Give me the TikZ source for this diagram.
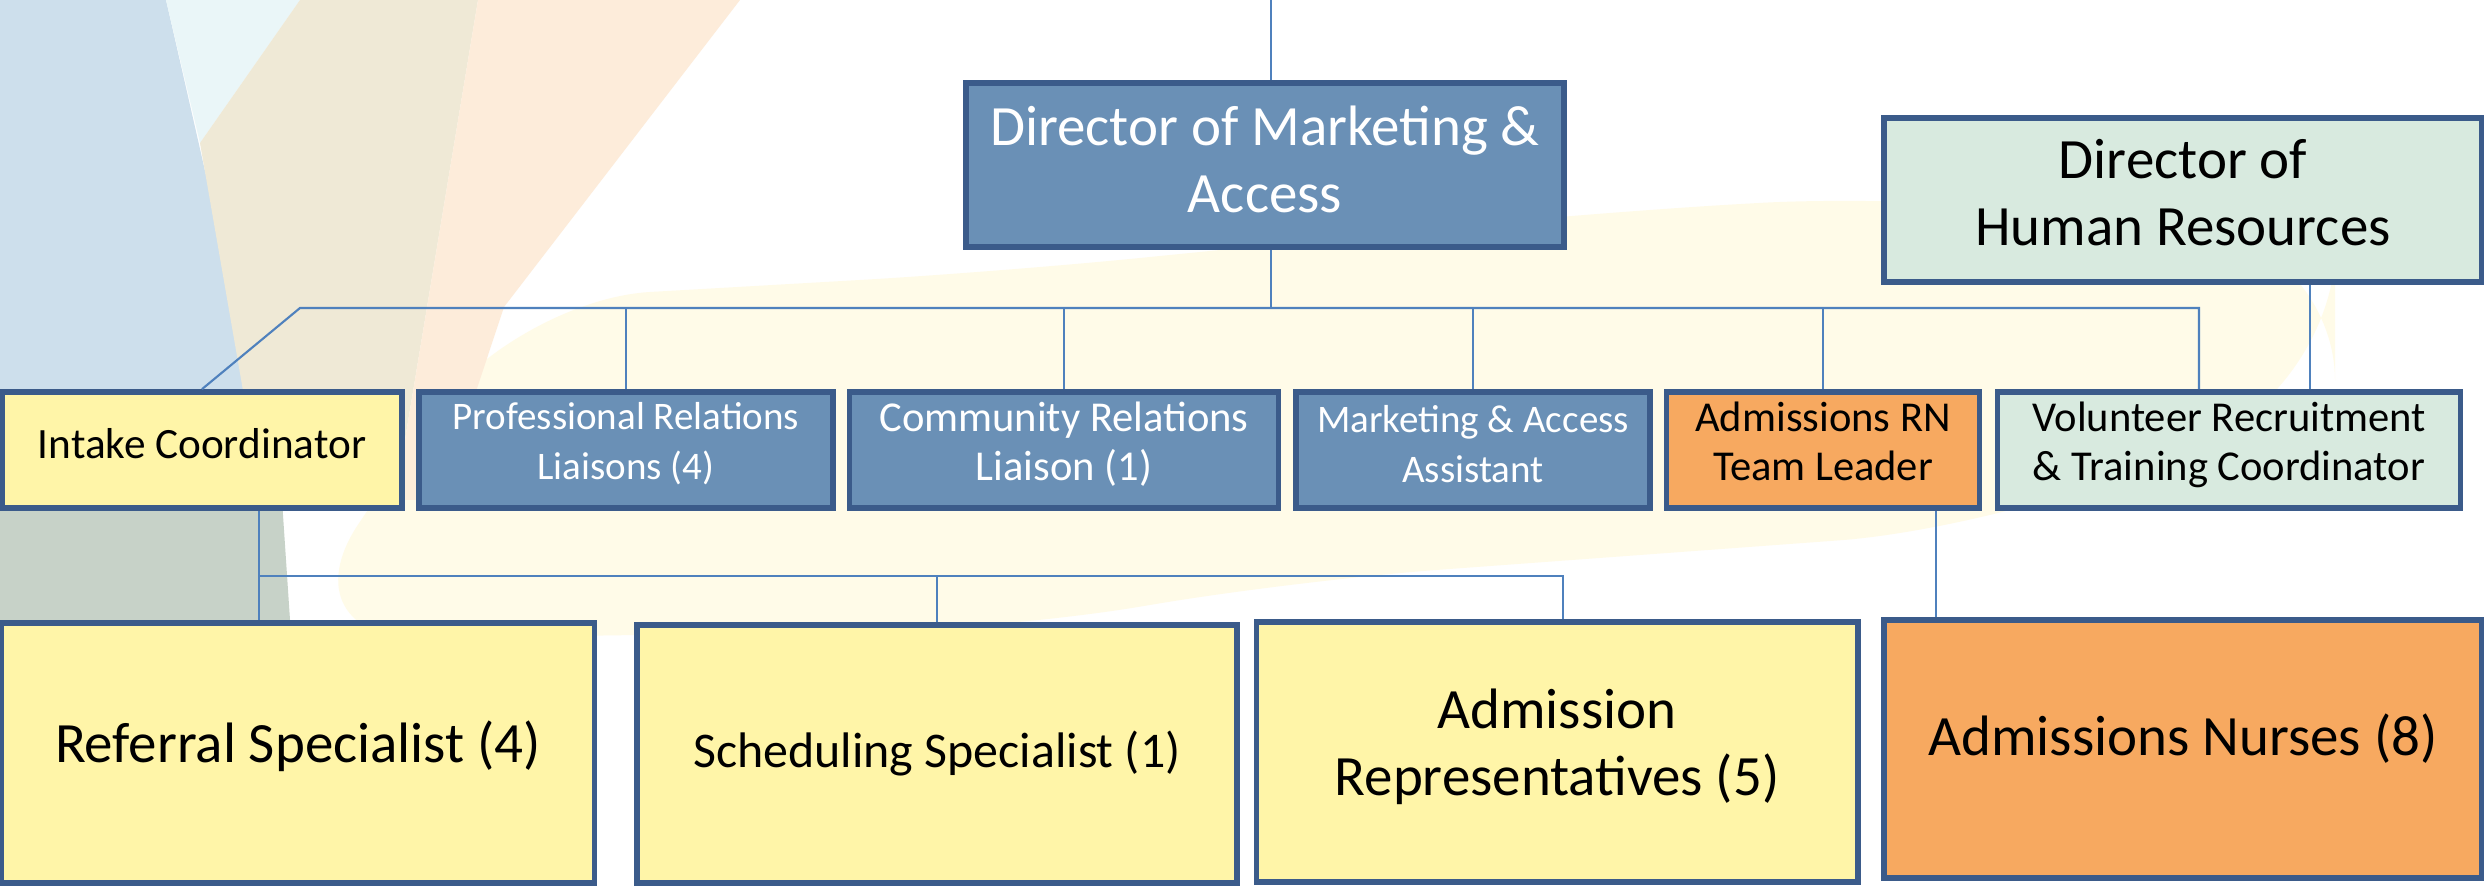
\documentclass[tikz,border=0pt]{standalone}
\usepackage{fontspec}
\setmainfont{Carlito}
\usepackage{tikz}
\usetikzlibrary{positioning, calc}
\definecolor{BoxBlue}{RGB}{106,144,182}
\definecolor{EdgeBlue}{RGB}{59,91,138}
\definecolor{LineBlue}{RGB}{79,129,189}
\definecolor{PaleYellow}{RGB}{255,245,168}
\definecolor{NurseOrange}{RGB}{247,169,96}
\definecolor{PaleGreen}{RGB}{216,234,223}
\definecolor{WashBlue}{RGB}{205,223,236}
\definecolor{WashCyan}{RGB}{234,246,248}
\definecolor{WashGrey}{RGB}{199,210,200}
\definecolor{WashBeige}{RGB}{239,233,214}
\definecolor{WashPeach}{RGB}{253,236,218}
\definecolor{WashCream}{RGB}{255,251,232}

\newcommand{\bigtext}{\fontsize{16.2}{19}\selectfont}
\newcommand{\midtext}{\fontsize{14.2}{18}\selectfont}
\newcommand{\smalltext}{\fontsize{11.1}{14.2}\selectfont}
\newcommand{\smallertext}{\fontsize{12.1}{14.2}\selectfont}

\tikzset{
  orgbox/.style={draw=EdgeBlue, line width=1.6pt, align=center, inner sep=2pt},
  bluebox/.style={orgbox, fill=BoxBlue, text=white},
  yellowbox/.style={orgbox, fill=PaleYellow},
  orangebox/.style={orgbox, fill=NurseOrange},
  greenbox/.style={orgbox, fill=PaleGreen},
  lift/.style={text depth=#1},
  link/.style={draw=LineBlue, line width=0.6pt}
}

\begin{document}
\begin{tikzpicture}[x=0.01cm, y=-0.01cm]
  \useasboundingbox (0,0) rectangle (2484,886);
  \fill[white] (0,0) rectangle (2484,886);

  % soft wash behind the chart
  \fill[WashCream, rounded corners=40pt] (280,640) -- (510,300) -- (1000,272) -- (1600,212)
       -- (1900,195) -- (2335,240) -- (2335,390) -- (1980,530) -- (1300,580) -- (1000,630) -- cycle;
  \fill[WashBlue] (0,0) -- (166,0) -- (255,390) -- (290,620) -- (300,886) -- (0,886) -- cycle;
  \fill[WashGrey] (0,500) -- (282,500) -- (290,620) -- (300,886) -- (0,886) -- cycle;
  \fill[WashCyan] (166,0) -- (300,0) -- (200,143) -- cycle;
  \fill[WashBeige] (300,0) -- (478,0) -- (395,500) -- (262,500) -- (200,143) -- cycle;
  \fill[WashPeach] (478,0) -- (740,0) -- (504,307) -- (440,500) -- (395,500) -- cycle;

  % top level
  \node[bluebox, minimum width=5.98cm, minimum height=1.64cm, font=\bigtext, lift=3.5pt]
       (mkt) at (1265,165) {Director of Marketing \&\\Access};
  \node[greenbox, minimum width=5.98cm, minimum height=1.64cm, font=\bigtext, lift=4.5pt]
       (hr) at (2183,200) {Director of\\Human Resources};

  % middle row
  \node[yellowbox, minimum width=4.00cm, minimum height=1.16cm, font=\fontsize{12.3}{14.2}\selectfont, lift=3.6pt]
       (intake) at (202,450) {Intake Coordinator};
  \node[bluebox, minimum width=4.14cm, minimum height=1.16cm, font=\smalltext, lift=5pt]
       (prof) at (626,450) {Professional Relations\\Liaisons (4)};
  \node[bluebox, minimum width=4.29cm, minimum height=1.16cm, font=\smallertext, lift=5pt]
       (comm) at (1064,450) {Community Relations\\Liaison (1)};
  \node[bluebox, minimum width=3.54cm, minimum height=1.16cm, font=\smalltext, lift=3.5pt]
       (asst) at (1473,450) {Marketing \& Access\\Assistant};
  \node[orangebox, minimum width=3.13cm, minimum height=1.16cm, font=\smallertext, lift=5pt]
       (rn) at (1823,450) {Admissions RN\\Team Leader};
  \node[greenbox, minimum width=4.63cm, minimum height=1.16cm, font=\smallertext, lift=5pt]
       (vol) at (2229,450) {Volunteer Recruitment\\\& Training Coordinator};

  % bottom row
  \node[yellowbox, minimum width=5.93cm, minimum height=2.60cm, font=\bigtext, lift=6.5pt]
       (referral) at (298,753) {Referral Specialist (4)};
  \node[yellowbox, minimum width=6.00cm, minimum height=2.58cm, font=\midtext]
       (sched) at (937,754) {Scheduling Specialist (1)};
  \node[yellowbox, minimum width=6.01cm, minimum height=2.60cm, font=\bigtext, lift=5.5pt]
       (reps) at (1557,752) {Admission\\Representatives (5)};
  \node[orangebox, minimum width=5.98cm, minimum height=2.58cm, font=\bigtext, lift=8pt]
       (nurses) at (2183,749) {Admissions Nurses (8)};

  % connectors
  \coordinate (top) at (1271,0);
  \coordinate (barL) at (300,308);
  \coordinate (barR) at (2199,308);
  \coordinate (bar2L) at (259,576);
  \coordinate (bar2R) at (1563,576);
  \coordinate (hrfoot) at ($(hr.south)+(127,0)$);
  \coordinate (infoot) at ($(intake.south)+(57,0)$);
  \coordinate (rnfoot) at ($(rn.south)+(113,0)$);

  \draw[link] (top) -- (top |- mkt.north);
  \draw[link] (top |- mkt.south) -- (top |- barL);
  \draw[link] (intake.north) -- (barL) -- (barR) -- (barR |- vol.north);
  \foreach \n in {prof, comm, asst, rn}
    \draw[link] (\n.north) -- (\n.north |- barL);
  \draw[link] (hrfoot) -- (hrfoot |- vol.north);
  \draw[link] (infoot) -- (infoot |- referral.north);
  \draw[link] (bar2L) -- (bar2R) -- (bar2R |- reps.north);
  \draw[link] (sched.north) -- (sched.north |- bar2L);
  \draw[link] (rnfoot) -- (rnfoot |- nurses.north);
\end{tikzpicture}
\end{document}
